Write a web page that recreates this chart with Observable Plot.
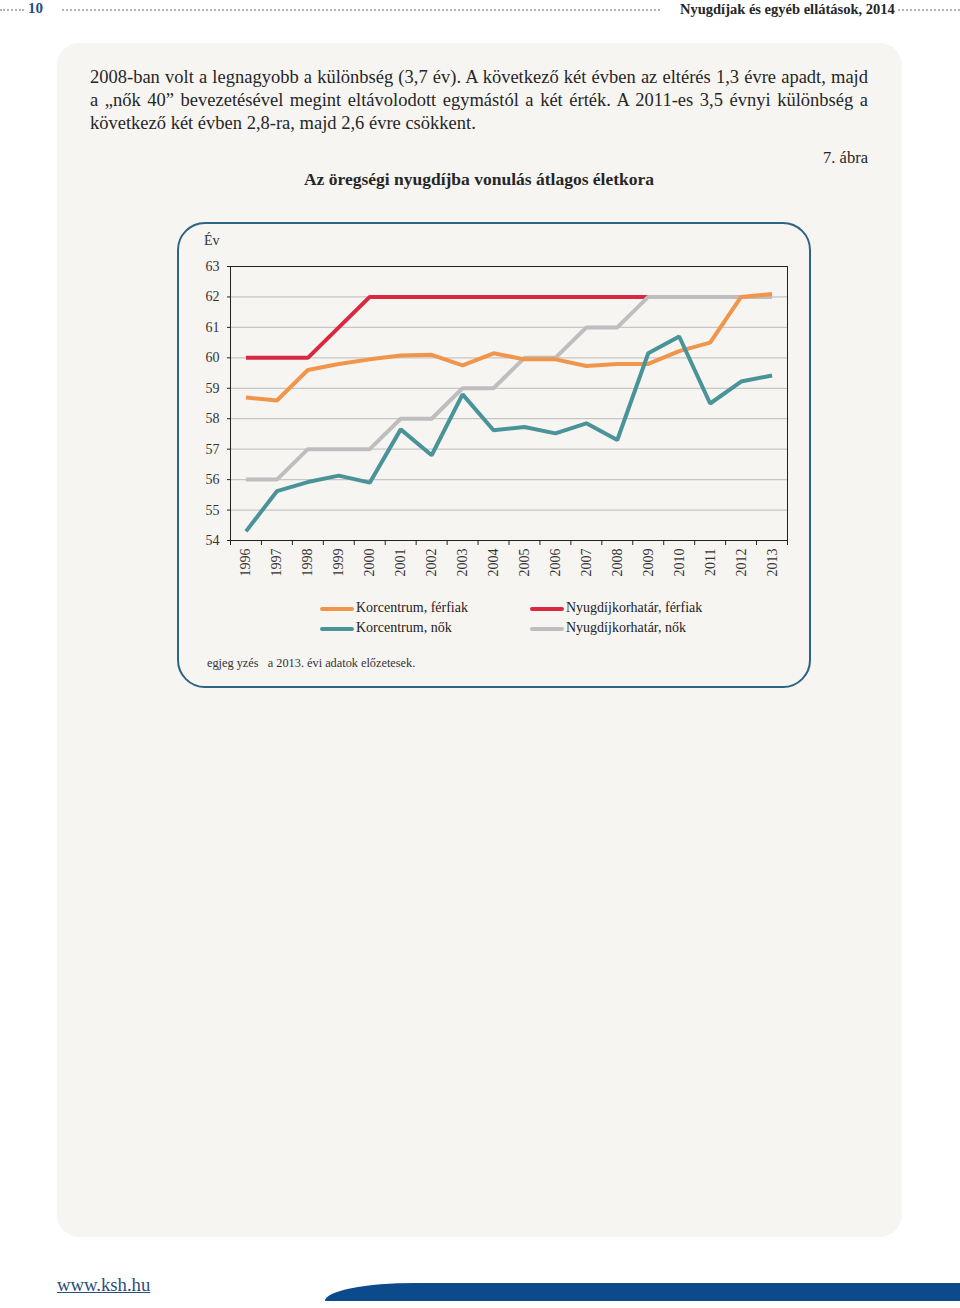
<!DOCTYPE html>
<html>
<head>
<meta charset="utf-8">
<script src="https://cdn.jsdelivr.net/npm/d3@7"></script>
<script src="https://cdn.jsdelivr.net/npm/@observablehq/plot@0.6"></script>
<style>
  html, body { margin:0; padding:0; background:#fff; }
  body { width:960px; height:1308px; position:relative; overflow:hidden; font-family:"Liberation Serif", "DejaVu Serif", serif; color:#222; }
  .abs { position:absolute; }
  .dots { position:absolute; top:9px; height:0; border-top:2px dotted #b4b4b4; }
  #panel { left:57px; top:43px; width:845px; height:1194px; background:#f7f5f2; border-radius:22px; }
  #para { left:90px; top:66px; width:778px; font-size:18.5px; line-height:23px; color:#262626; }
  #para .j { text-align:justify; text-align-last:justify; white-space:nowrap; }
  #box { left:177px; top:222px; width:630px; height:462px; border:2px solid #2c6485; border-radius:28px; }
  .leg { position:absolute; font-size:14px; color:#222; white-space:nowrap; }
  .sw { position:absolute; width:34px; height:4px; border-radius:2px; }
</style>
</head>
<body>
<div class="dots" style="left:0;width:24px"></div>
<div class="abs" style="left:28px;top:0px;font-size:15px;font-weight:bold;color:#1e4f86">10</div>
<div class="dots" style="left:62px;width:598px"></div>
<div class="abs" style="left:680px;top:1px;font-size:14.5px;font-weight:bold;color:#262626;white-space:nowrap">Nyugdíjak és egyéb ellátások, 2014</div>
<div class="dots" style="left:898px;width:62px"></div>

<div id="panel" class="abs"></div>
<div id="para" class="abs">
  <div class="j">2008-ban volt a legnagyobb a különbség (3,7 év). A következő két évben az eltérés 1,3 évre apadt, majd</div>
  <div class="j">a „nők 40” bevezetésével megint eltávolodott egymástól a két érték. A 2011-es 3,5 évnyi különbség a</div>
  <div>következő két évben 2,8-ra, majd 2,6 évre csökkent.</div>
</div>
<div class="abs" style="right:92px;top:148px;font-size:16.5px;color:#262626">7. ábra</div>
<div class="abs" style="left:0;width:958px;top:169px;text-align:center;font-size:17.5px;font-weight:bold;color:#262626">Az öregségi nyugdíjba vonulás átlagos életkora</div>

<div id="box" class="abs"></div>
<div class="abs" style="left:204px;top:233px;font-size:14px;color:#333">Év</div>
<div id="chart" class="abs" style="left:177px;top:222px"></div>

<div id="legend"></div>
<div class="abs" style="left:207px;top:656px;font-size:12.3px;color:#333;white-space:pre">egjeg yzés   a 2013. évi adatok előzetesek.</div>

<a class="abs" style="left:57px;top:1274px;font-size:18.7px;color:#2a4f7a;text-decoration:underline">www.ksh.hu</a>
<div class="abs" style="left:325px;top:1283px;width:635px;height:18px;background:#0b4a8b;border-top-left-radius:90px 18px"></div>

<script>
const years = [1996,1997,1998,1999,2000,2001,2002,2003,2004,2005,2006,2007,2008,2009,2010,2011,2012,2013];
const korcentrumFerfiak = [58.7,58.6,59.6,59.8,59.95,60.08,60.1,59.75,60.15,59.95,59.95,59.73,59.8,59.8,60.22,60.5,62.0,62.1];
const korcentrumNok = [54.3,55.62,55.92,56.13,55.9,57.65,56.8,58.8,57.62,57.73,57.52,57.85,57.3,60.15,60.7,58.5,59.22,59.42];
const korhatarFerfiak = [60,60,60,61,62,62,62,62,62,62,62,62,62,62,62,62,62,62];
const korhatarNok = [56,56,57,57,57,58,58,59,59,60,60,61,61,62,62,62,62,62];
const yTicks = [54,55,56,57,58,59,60,61,62,63];

const seriesNames = ["Korcentrum, férfiak","Korcentrum, nők","Nyugdíjkorhatár, férfiak","Nyugdíjkorhatár, nők"];
const seriesColors = ["#f0954a","#4a9499","#d9283f","#bebebf"];
const seriesValues = [korcentrumFerfiak, korcentrumNok, korhatarFerfiak, korhatarNok];

const rows = seriesNames.flatMap((s, i) => years.map((yr, j) => ({series: s, year: yr, value: seriesValues[i][j]})));
const boundaries = years.map(y => y - 0.5).concat([years[years.length - 1] + 0.5]);
const drawOrder = [2, 3, 0, 1];

const plot = Plot.plot({
  width: 633,
  height: 380,
  marginLeft: 53,
  marginRight: 23,
  marginTop: 44,
  marginBottom: 62,
  style: {fontFamily: "'Liberation Serif', serif", fontSize: "14px", color: "#333", background: "transparent"},
  x: {domain: [boundaries[0], boundaries[boundaries.length - 1]]},
  y: {domain: [54, 63]},
  marks: [
    Plot.gridY(yTicks.slice(1, -1), {stroke: "#c6c6c6", strokeOpacity: 1, strokeWidth: 1.2}),
    ...drawOrder.map(i => Plot.line(rows.filter(r => r.series === seriesNames[i]), {
      x: "year", y: "value", stroke: seriesColors[i], strokeWidth: 4, strokeLinejoin: "miter", strokeLinecap: "butt"
    })),
    Plot.frame({stroke: "#222", strokeWidth: 1}),
    Plot.axisY({ticks: yTicks, tickSize: 3, tickPadding: 8, tickFormat: d => String(d), label: null, stroke: "#222"}),
    Plot.axisX({ticks: boundaries, tickSize: 5, tickFormat: () => "", label: null, stroke: "#222"}),
    Plot.axisX({ticks: years, tickSize: 0, tickPadding: 8, tickRotate: -90, tickFormat: d => String(d), label: null})
  ]
});
document.getElementById("chart").appendChild(plot);

const legend = document.getElementById("legend");
const legPos = [[320, 609], [320, 629], [530, 609], [530, 629]];
seriesNames.forEach((s, i) => {
  const [lx, ly] = legPos[i];
  const sw = document.createElement("div");
  sw.className = "sw";
  sw.style.left = lx + "px"; sw.style.top = (ly - 2) + "px"; sw.style.background = seriesColors[i];
  legend.appendChild(sw);
  const t = document.createElement("div");
  t.className = "leg";
  t.style.left = (lx + 36) + "px"; t.style.top = (ly - 9) + "px";
  t.textContent = s;
  legend.appendChild(t);
});
</script>
</body>
</html>
